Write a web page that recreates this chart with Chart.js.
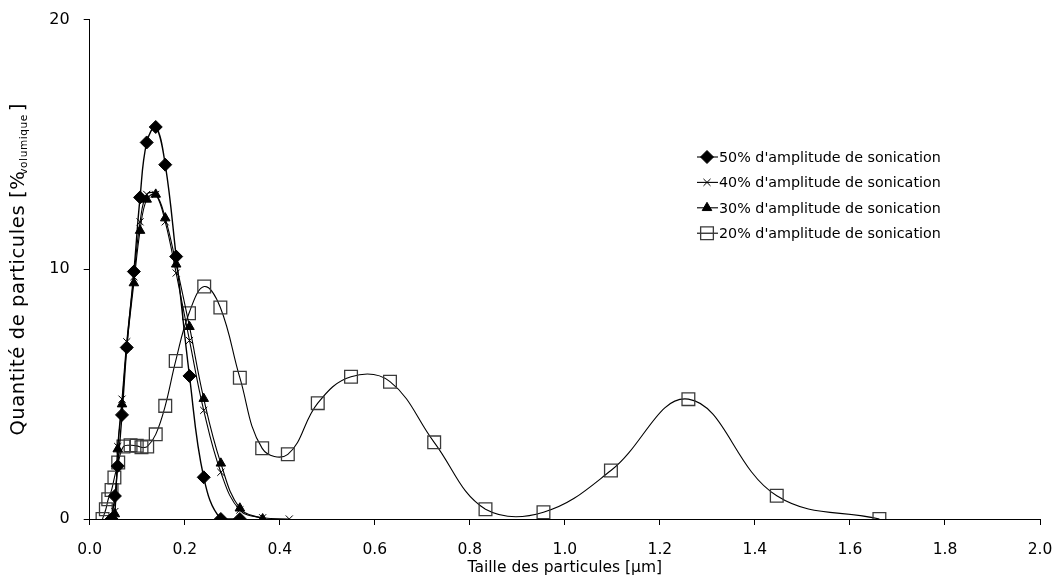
<!DOCTYPE html>
<html>
<head>
<meta charset="utf-8">
<script src="https://cdn.jsdelivr.net/npm/chart.js@4.4.1/dist/chart.umd.min.js"></script>
<style>
  html, body { margin: 0; padding: 0; background: #fff; }
  #wrap { width: 1058px; height: 582px; }
</style>
</head>
<body>
<div id="wrap"><canvas id="psd"></canvas></div>
<script>
// --- data ---
const seriesLabels = [
  "50% d'amplitude de sonication",
  "40% d'amplitude de sonication",
  "30% d'amplitude de sonication",
  "20% d'amplitude de sonication"
];

// particle size [µm] / volume fraction [%]
const size50 = [0.046, 0.053, 0.059, 0.068, 0.078, 0.093, 0.106, 0.120, 0.139, 0.159, 0.182, 0.210, 0.240, 0.276, 0.316];
const vol50  = [0, 0.92, 2.12, 4.17, 6.87, 9.91, 12.88, 15.08, 15.70, 14.19, 10.51, 5.73, 1.67, 0, 0];

const size40 = [0.046, 0.053, 0.059, 0.068, 0.078, 0.093, 0.106, 0.120, 0.139, 0.159, 0.182, 0.210, 0.240, 0.276, 0.316, 0.364, 0.420];
const vol40  = [0, 0.30, 2.90, 4.80, 7.10, 9.70, 11.90, 13.00, 13.00, 11.90, 9.85, 7.15, 4.35, 1.87, 0.36, 0.05, 0];

const size30 = [0.046, 0.053, 0.059, 0.068, 0.078, 0.093, 0.106, 0.120, 0.139, 0.159, 0.182, 0.210, 0.240, 0.276, 0.316, 0.364];
const vol30  = [0, 0.20, 2.80, 4.60, 6.90, 9.45, 11.55, 12.80, 13.00, 12.05, 10.20, 7.70, 4.82, 2.23, 0.43, 0];

const size20 = [0.027, 0.034, 0.039, 0.046, 0.052, 0.060, 0.071, 0.086, 0.099, 0.109, 0.121, 0.139, 0.159, 0.181, 0.209, 0.241, 0.275, 0.316, 0.363, 0.417, 0.480, 0.550, 0.632, 0.725, 0.833, 0.955, 1.097, 1.260, 1.446, 1.662];
const vol20  = [0, 0.39, 0.79, 1.16, 1.66, 2.26, 2.90, 2.95, 2.93, 2.87, 2.90, 3.39, 4.53, 6.33, 8.24, 9.31, 8.47, 5.66, 2.83, 2.59, 4.64, 5.70, 5.50, 3.07, 0.39, 0.27, 1.94, 4.80, 0.93, 0];

const xTitle = 'Taille des particules [µm]';
const yTitleMain = 'Quantité de particules [%';
const yTitleSub = 'volumique';
const yTitleEnd = ']';

const FONT = "'DejaVu Sans', Verdana, sans-serif";

const toPoints = (xs, ys) => xs.map((x, i) => ({ x: x, y: ys[i] }));

// marker styles per series (diamond, x, triangle, open square)
const markers = [
  { style: 'rectRot', radius: 6.5, fill: '#000', stroke: '#000', width: 1, line: 1.4 },
  { style: 'crossRot', radius: 5, fill: '#000', stroke: '#000', width: 1, line: 1.1 },
  { style: 'triangle', radius: 5.5, fill: '#000', stroke: '#000', width: 1, line: 1.1 },
  { style: 'rect', radius: 9, fill: 'rgba(255,255,255,0)', stroke: '#3a3a3a', width: 1.3, line: 1.1 }
];

const allPoints = [toPoints(size50, vol50), toPoints(size40, vol40), toPoints(size30, vol30), toPoints(size20, vol20)];

const datasets = allPoints.map((pts, i) => ({
  label: seriesLabels[i],
  data: pts,
  borderColor: '#000',
  borderWidth: markers[i].line,
  tension: 0.4,
  fill: false,
  pointStyle: markers[i].style,
  pointRadius: markers[i].radius,
  pointBackgroundColor: markers[i].fill,
  pointBorderColor: markers[i].stroke,
  pointBorderWidth: markers[i].width
}));

// y title with subscript "volumique"
const yTitlePlugin = {
  id: 'yTitleSub',
  afterDraw(chart) {
    const ctx = chart.ctx;
    const area = chart.chartArea;
    const big = '19.5px ' + FONT;
    const small = '10.5px ' + FONT;
    ctx.save();
    ctx.letterSpacing = '0.6px';
    ctx.font = big;
    const w1 = ctx.measureText(yTitleMain).width;
    const w3 = ctx.measureText(yTitleEnd).width;
    ctx.font = small;
    const w2 = ctx.measureText(yTitleSub).width;
    const total = w1 + w2 + w3 - 1;
    ctx.translate(24, (area.top + area.bottom) / 2);
    ctx.rotate(-Math.PI / 2);
    ctx.fillStyle = '#000';
    ctx.textBaseline = 'alphabetic';
    ctx.textAlign = 'left';
    let x = -total / 2;
    ctx.font = big;
    ctx.fillText(yTitleMain, x, 0);
    x += w1 - 4;
    ctx.font = small;
    ctx.fillText(yTitleSub, x, 3);
    x += w2 + 3;
    ctx.font = big;
    ctx.fillText(yTitleEnd, x, 0);
    ctx.restore();
  }
};

function drawMarker(ctx, m, cx, cy) {
  const r = m.radius;
  ctx.beginPath();
  if (m.style === 'rectRot') {
    ctx.moveTo(cx, cy - r); ctx.lineTo(cx + r, cy); ctx.lineTo(cx, cy + r); ctx.lineTo(cx - r, cy); ctx.closePath();
  } else if (m.style === 'triangle') {
    ctx.moveTo(cx, cy - r); ctx.lineTo(cx + r * 0.87, cy + r * 0.5); ctx.lineTo(cx - r * 0.87, cy + r * 0.5); ctx.closePath();
  } else if (m.style === 'rect') {
    const s = Math.SQRT1_2 * r;
    ctx.rect(cx - s, cy - s, 2 * s, 2 * s);
  } else if (m.style === 'crossRot') {
    const s = Math.SQRT1_2 * r;
    ctx.moveTo(cx - s, cy - s); ctx.lineTo(cx + s, cy + s);
    ctx.moveTo(cx + s, cy - s); ctx.lineTo(cx - s, cy + s);
  }
  ctx.fillStyle = m.fill;
  ctx.strokeStyle = m.stroke;
  ctx.lineWidth = m.width;
  if (m.style !== 'crossRot') ctx.fill();
  ctx.stroke();
}

// legend: short line + marker + label, drawn at its place inside the plot
const legendPlugin = {
  id: 'lineLegend',
  afterDraw(chart) {
    const ctx = chart.ctx;
    ctx.save();
    ctx.font = '14.3px ' + FONT;
    ctx.textBaseline = 'middle';
    seriesLabels.forEach((lab, i) => {
      const y = 157 + i * 25.4;
      ctx.strokeStyle = '#000';
      ctx.lineWidth = 1.1;
      ctx.beginPath();
      ctx.moveTo(697, y);
      ctx.lineTo(718, y);
      ctx.stroke();
      drawMarker(ctx, markers[i], 707, y);
      ctx.fillStyle = '#000';
      ctx.fillText(lab, 719, y + 1);
    });
    ctx.restore();
  }
};

new Chart(document.getElementById('psd'), {
  type: 'line',
  data: { datasets: datasets },
  options: {
    responsive: true,
    maintainAspectRatio: false,
    animation: false,
    layout: { padding: { top: 19.6, right: 18, left: 0, bottom: 0 } },
    plugins: {
      legend: { display: false },
      tooltip: { enabled: false }
    },
    scales: {
      x: {
        type: 'linear',
        min: 0,
        max: 2,
        afterFit: s => { s.height = 63; s.paddingLeft = 0; s.paddingRight = 0; },
        grid: { drawOnChartArea: false, tickLength: 6, tickColor: '#000' },
        border: { color: '#000', width: 1 },
        ticks: {
          stepSize: 0.2,
          padding: 16,
          maxRotation: 0,
          color: '#000',
          font: { family: FONT, size: 15.5 },
          callback: v => v.toFixed(1)
        },
        title: {
          display: true,
          text: xTitle,
          color: '#000',
          font: { family: FONT, size: 15.5 },
          padding: { top: 0, bottom: 5 }
        }
      },
      y: {
        min: 0,
        max: 20,
        afterFit: s => { s.width = 89.7; s.paddingTop = 0; s.paddingBottom = 0; },
        grid: { drawOnChartArea: false, tickLength: 6, tickColor: '#000' },
        border: { color: '#000', width: 1 },
        ticks: {
          stepSize: 10,
          padding: 14,
          color: '#000',
          font: { family: FONT, size: 16 }
        }
      }
    }
  },
  plugins: [yTitlePlugin, legendPlugin]
});
</script>
</body>
</html>
